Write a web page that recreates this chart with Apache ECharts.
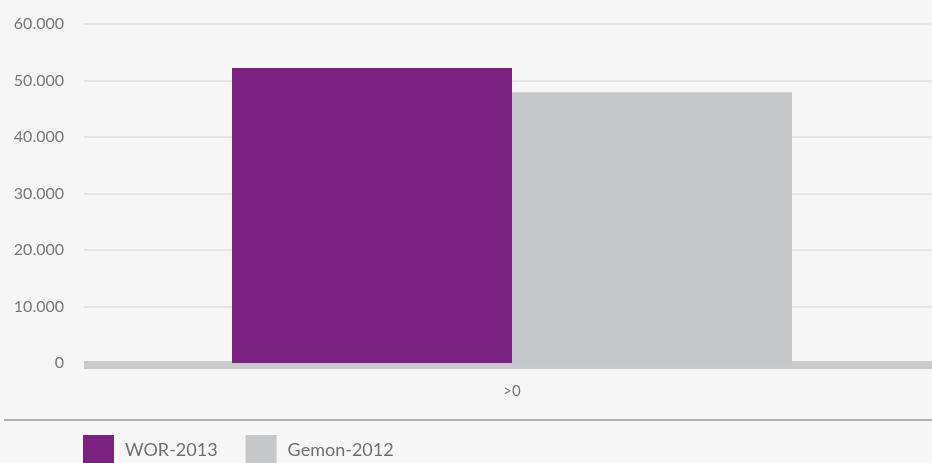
<!DOCTYPE html>
<html><head><meta charset="utf-8">
<script src="https://cdn.jsdelivr.net/npm/echarts@6/dist/echarts.min.js"></script>
<style>html,body{margin:0;padding:0;background:#f6f6f6}#c{width:932px;height:463px}</style>
</head><body><div id="c"></div>
<script>
const categories = ['>0'];
const seriesNames = ['WOR-2013', 'Gemon-2012'];
const wor2013 = [52200];
const gemon2012 = [47900];
const yTicks = [0, 10000, 20000, 30000, 40000, 50000, 60000];

const chart = echarts.init(document.getElementById('c'));
const fmt = v => v === 0 ? '0' : String(v).replace(/\B(?=(\d{3})+(?!\d))/g, '.');
chart.setOption({
  backgroundColor: '#f6f6f6',
  animation: false,
  grid: { left: 84, right: -8, top: 24, bottom: 100, containLabel: false, outerBoundsMode: 'none' },
  legend: {
    data: seriesNames, left: 78, top: 430, itemWidth: 31, itemHeight: 31, itemGap: 28,
    icon: 'rect',
    textStyle: { fontFamily: 'Lato', fontSize: 18, color: '#6f6f6f', padding: [0, 0, 0, 6] }
  },
  xAxis: {
    type: 'category', data: categories, offset: 2,
    axisLine: { show: true, onZero: false, lineStyle: { color: '#c8c9ca', width: 8, cap: 'butt' } },
    axisTick: { show: false },
    axisLabel: { fontFamily: 'Lato', fontSize: 15, color: '#777', margin: 19 }
  },
  yAxis: {
    type: 'value', min: yTicks[0], max: yTicks[yTicks.length - 1], interval: 10000,
    axisLine: { show: false }, axisTick: { show: false },
    splitLine: { lineStyle: { color: '#dcdcdc', width: 1.5 } },
    axisLabel: { fontFamily: 'Lato', fontSize: 16, color: '#777', margin: 20, formatter: fmt }
  },
  graphic: [{
    type: 'line', shape: { x1: 4, y1: 420, x2: 932, y2: 420 },
    style: { stroke: '#9a9a9a', lineWidth: 1.5 }, silent: true
  }],
  series: [
    { name: seriesNames[0], type: 'bar', data: wor2013, barWidth: 280, barGap: '0%', itemStyle: { color: '#7b2180' }, z: 1 },
    { name: seriesNames[1], type: 'bar', data: gemon2012, barWidth: 280, barGap: '0%', itemStyle: { color: '#c6c7c8' }, z: 1 }
  ]
});
</script></body></html>
